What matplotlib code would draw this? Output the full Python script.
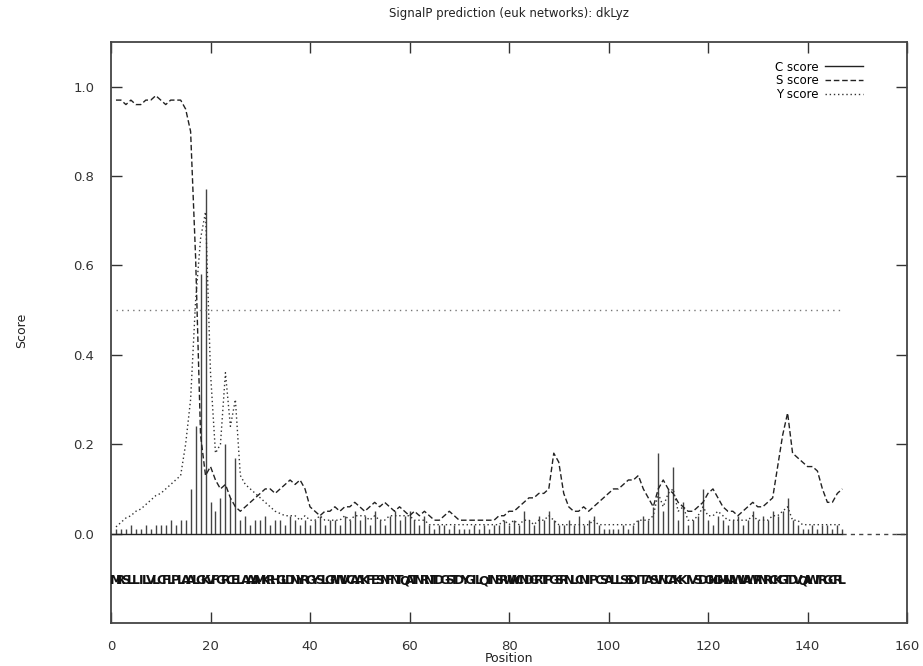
import numpy as np
import matplotlib
matplotlib.use("Agg")
import matplotlib.pyplot as plt
from matplotlib.lines import Line2D

title = "SignalP prediction (euk networks): dkLyz"
sequence = ("MRSLLILVLCFLPLAALG"
            "KVFGRCELAAAMKRHGLDNYRGYSLGNWVCAAKFESNFNTQATNRNTDGSTDYGILQINSRWWCNDGRTPGSRNLCNIPCSALLSSDITASVNCAKKIVSDGNGMNAWVAWRNRCKGTDVQAWIRGCRL")

c_score = [0.01, 0.01, 0.01, 0.02, 0.01, 0.01, 0.02, 0.01, 0.02, 0.02,
           0.02, 0.03, 0.02, 0.03, 0.03,
           0.10, 0.24, 0.58, 0.77, 0.07,
           0.05, 0.08, 0.20, 0.08, 0.17,
           0.03, 0.04, 0.02, 0.03, 0.03,
           0.04, 0.02, 0.03, 0.03, 0.02,
           0.04, 0.03, 0.02, 0.03, 0.02,
           0.03, 0.04, 0.02, 0.03, 0.03,
           0.02, 0.04, 0.03, 0.05, 0.03,
           0.04, 0.02, 0.05, 0.03, 0.02,
           0.04, 0.05, 0.03, 0.04, 0.05,
           0.03, 0.02, 0.04, 0.02, 0.01,
           0.02, 0.02, 0.01, 0.02, 0.01,
           0.01, 0.01, 0.02, 0.01, 0.02,
           0.01, 0.02, 0.02, 0.03, 0.02,
           0.03, 0.02, 0.05, 0.03, 0.02,
           0.04, 0.03, 0.05, 0.03, 0.02,
           0.02, 0.03, 0.02, 0.04, 0.02,
           0.03, 0.04, 0.02, 0.01, 0.01,
           0.01, 0.01, 0.02, 0.01, 0.02,
           0.03, 0.04, 0.03, 0.06, 0.18,
           0.05, 0.10, 0.15, 0.03, 0.07,
           0.02, 0.03, 0.04, 0.10, 0.03,
           0.02, 0.04, 0.03, 0.02, 0.03,
           0.04, 0.02, 0.03, 0.05, 0.03,
           0.04, 0.03, 0.05, 0.04, 0.05,
           0.08, 0.03, 0.02, 0.01, 0.01,
           0.02, 0.01, 0.02, 0.02, 0.01,
           0.02, 0.01]

s_score = [0.97, 0.97, 0.96, 0.97, 0.96, 0.96, 0.97, 0.97, 0.98, 0.97,
           0.96, 0.97, 0.97, 0.97, 0.95,
           0.90, 0.62, 0.22, 0.13, 0.15,
           0.12, 0.10, 0.11, 0.08, 0.06,
           0.05, 0.06, 0.07, 0.08, 0.09,
           0.10, 0.10, 0.09, 0.10, 0.11,
           0.12, 0.11, 0.12, 0.10, 0.06,
           0.05, 0.04, 0.05, 0.05, 0.06,
           0.05, 0.06, 0.06, 0.07, 0.06,
           0.05, 0.06, 0.07, 0.06, 0.07,
           0.06, 0.05, 0.06, 0.05, 0.04,
           0.05, 0.04, 0.05, 0.04, 0.03,
           0.03, 0.04, 0.05, 0.04, 0.03,
           0.03, 0.03, 0.03, 0.03, 0.03,
           0.03, 0.03, 0.04, 0.04, 0.05,
           0.05, 0.06, 0.07, 0.08, 0.08,
           0.09, 0.09, 0.10, 0.18, 0.16,
           0.09, 0.06, 0.05, 0.05, 0.06,
           0.05, 0.06, 0.07, 0.08, 0.09,
           0.10, 0.10, 0.11, 0.12, 0.12,
           0.13, 0.10, 0.08, 0.06, 0.10,
           0.12, 0.10, 0.09, 0.07, 0.06,
           0.05, 0.05, 0.06, 0.07, 0.09,
           0.10, 0.08, 0.06, 0.05, 0.05,
           0.04, 0.05, 0.06, 0.07, 0.06,
           0.06, 0.07, 0.08, 0.15, 0.22,
           0.27, 0.18, 0.17, 0.16, 0.15,
           0.15, 0.14, 0.10, 0.07, 0.07,
           0.09, 0.10]

y_score = [0.015, 0.025, 0.035, 0.04, 0.05, 0.055, 0.065, 0.075, 0.085, 0.09,
           0.10, 0.11, 0.12, 0.13, 0.20,
           0.30, 0.52, 0.66, 0.72, 0.36,
           0.18, 0.20, 0.36, 0.24, 0.30,
           0.13, 0.11, 0.10, 0.09, 0.08,
           0.07, 0.06, 0.05, 0.045, 0.04,
           0.04, 0.04, 0.03, 0.04, 0.03,
           0.03, 0.04, 0.03, 0.03, 0.03,
           0.03, 0.04, 0.03, 0.04, 0.04,
           0.04, 0.03, 0.04, 0.03, 0.03,
           0.04, 0.04, 0.04, 0.04, 0.04,
           0.03, 0.03, 0.03, 0.02, 0.02,
           0.02, 0.02, 0.02, 0.02, 0.02,
           0.02, 0.02, 0.02, 0.02, 0.02,
           0.02, 0.02, 0.02, 0.03, 0.02,
           0.03, 0.02, 0.03, 0.03, 0.02,
           0.03, 0.03, 0.04, 0.03, 0.02,
           0.02, 0.02, 0.02, 0.02, 0.02,
           0.02, 0.03, 0.02, 0.02, 0.02,
           0.02, 0.02, 0.02, 0.02, 0.02,
           0.03, 0.03, 0.03, 0.04, 0.09,
           0.06, 0.09, 0.10, 0.05, 0.06,
           0.03, 0.03, 0.04, 0.06, 0.04,
           0.04, 0.05, 0.04, 0.03, 0.03,
           0.03, 0.03, 0.03, 0.04, 0.03,
           0.03, 0.03, 0.04, 0.04, 0.05,
           0.06, 0.03, 0.03, 0.02, 0.02,
           0.02, 0.02, 0.02, 0.02, 0.02,
           0.02, 0.02]

cutoff = 0.5
x_ticks = [0, 20, 40, 60, 80, 100, 120, 140, 160]
y_ticks = [0.0, 0.2, 0.4, 0.6, 0.8, 1.0]

pos = np.arange(1, len(sequence) + 1)

fig = plt.figure(figsize=(9.23, 6.66), dpi=100)
ax = fig.add_axes([111/923, 1 - 623/666, (907-111)/923, (623-42)/666])

# C score impulses
ax.vlines(pos, 0, c_score, colors="#444444", linewidth=1.0)
# S score
ax.plot(pos, s_score, color="#222222", linestyle=(0, (4, 2)), linewidth=1.0)
# Y score
ax.plot(pos, y_score, color="#333333", linestyle=(0, (1, 2)), linewidth=1.0)

# cutoff line and zero line
ax.plot([pos[0], pos[-1]], [cutoff, cutoff], color="#777777", linestyle=(0, (1, 3)), linewidth=1.0)
ax.plot([0, pos[-1]], [0, 0], color="#222222", linewidth=1.0)
ax.plot([pos[-1], 160], [0, 0], color="#444444", linestyle=(0, (3, 3)), linewidth=1.0)

for p, aa in zip(pos, sequence):
    ax.text(p, -0.105, aa, ha="center", va="center", fontsize=9,
            fontweight="bold", color="#111111")

ax.set_xlim(0, 160)
ax.set_ylim(-0.2, 1.1)
ax.set_xticks(x_ticks)
ax.set_yticks(y_ticks)
ax.set_yticklabels([f"{v:.1f}" for v in y_ticks])
ax.tick_params(direction="in", top=True, right=True, length=8, width=1.0,
               labelsize=9.5, colors="#333333")
ax.tick_params(axis="x", pad=12)
ax.tick_params(axis="y", pad=12)
for sp in ax.spines.values():
    sp.set_linewidth(1.3)
    sp.set_color("#444444")

handles = [Line2D([], [], color="#222222", linewidth=1.0),
           Line2D([], [], color="#222222", linestyle=(0, (4, 2)), linewidth=1.0),
           Line2D([], [], color="#333333", linestyle=(0, (1, 2)), linewidth=1.0)]
ax.legend(handles, ["C score", "S score", "Y score"], loc="upper right",
          bbox_to_anchor=(0.945, 0.968), frameon=False, markerfirst=False,
          fontsize=8.5, handlelength=3.2, labelspacing=0.05, borderpad=0,
          borderaxespad=0, handletextpad=0.6)

fig.text(509/923, 1 - 14/666, title, ha="center", va="center", fontsize=8.5, color="#222222")
fig.text(509/923, 1 - 658/666, "Position", ha="center", va="center", fontsize=9, color="#222222")
fig.text(22/923, 1 - 330/666, "Score", ha="center", va="center", rotation=90, fontsize=9, color="#222222")

fig.savefig("out.png", dpi=100)
